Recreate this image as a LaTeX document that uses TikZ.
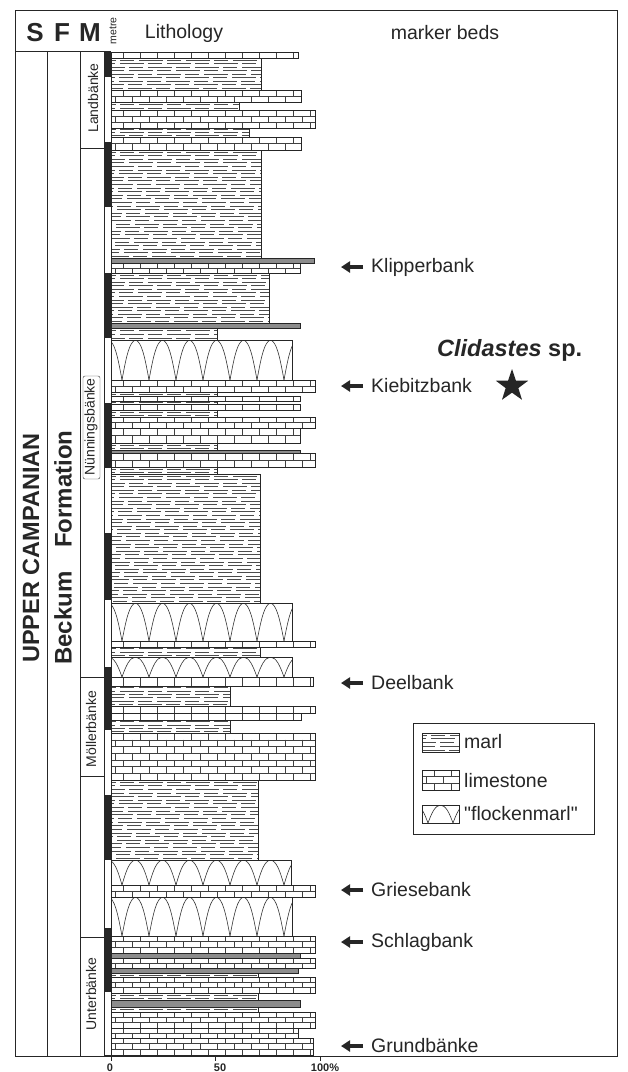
\documentclass[tikz,border=0pt]{standalone}
\usepackage{fontspec}
\setmainfont{Liberation Sans}[Ligatures=TeXOff]
\usetikzlibrary{arrows.meta,shapes.geometric}

\tikzset{
  frame/.style={line width=1pt, draw=black!85},
  bedline/.style={line width=0.6pt, draw=black!85},
  thinline/.style={line width=0.45pt, draw=black!75},
  flockline/.style={line width=0.6pt, draw=black!80},
  marlline/.style={line width=0.45pt, draw=black!70, dash pattern=on 24pt off 4pt on 14pt off 5pt},
  mlabel/.style={anchor=west, inner sep=0pt, font=\fontsize{19.5}{22}\selectfont, text=black!85},
  hlabel/.style={inner sep=0pt, font=\fontsize{19.5}{22}\selectfont, text=black!85},
  biglabel/.style={inner sep=0pt, rotate=90, font=\fontsize{24}{26}\selectfont\bfseries, text=black!85},
  unitlabel/.style={inner sep=0pt, rotate=90, font=\fontsize{14}{16}\selectfont, text=black!85},
  sfm/.style={inner sep=0pt, font=\fontsize{26}{28}\selectfont\bfseries, text=black!85},
  axislabel/.style={inner sep=0pt, font=\fontsize{11}{12}\selectfont\bfseries, text=black!85},
  markarrow/.style={line width=3.4pt, draw=black!85, -{Triangle[length=9pt,width=11pt]}, shorten <=8pt},
}

% limestone: x1 y1 x2 y2
\newcommand{\limeG}[4]{%
  \fill[white] (#1,#2) rectangle (#3,#4);
  \begin{scope}
    \clip (#1,#2) rectangle (#3,#4);
    \pgfmathtruncatemacro\nrows{max(1,round((#4-#2)/6.3))}
    \pgfmathsetmacro\rowh{(#4-#2)/\nrows}
    \foreach \rr in {1,...,\nrows}{
      \pgfmathsetmacro\ya{#2+(\rr-1)*\rowh}
      \pgfmathsetmacro\yb{#2+\rr*\rowh}
      \pgfmathsetmacro\off{mod(\rr,2)*8.5+4}
      \draw[thinline] (#1,\yb) -- (#3,\yb);
      \foreach \jj in {0,...,13}{
        \draw[thinline] ({#1+\off+17*\jj},\ya) -- ({#1+\off+17*\jj},\yb);
      }
    }
  \end{scope}
  \draw[bedline] (#1,#2) rectangle (#3,#4);
}
% marl
\newcommand{\marlG}[4]{%
  \fill[white] (#1,#2) rectangle (#3,#4);
  \begin{scope}
    \clip (#1,#2) rectangle (#3,#4);
    \pgfmathtruncatemacro\nlines{max(1,round((#4-#2)/3.6))}
    \pgfmathsetmacro\lineh{(#4-#2)/\nlines}
    \foreach \rr in {1,...,\nlines}{
      \pgfmathsetmacro\yy{#2+(\rr-0.5)*\lineh}
      \pgfmathsetmacro\ph{mod(\rr*19,47)}
      \draw[marlline] ({#1-\ph},\yy) -- (#3,\yy);
    }
  \end{scope}
  \draw[bedline] (#1,#2) rectangle (#3,#4);
}
% marly limestone (dark)
\newcommand{\darkG}[4]{%
  \fill[black!45] (#1,#2) rectangle (#3,#4);
  \draw[bedline] (#1,#2) rectangle (#3,#4);
}
% flockenmarl: x1 y1 x2 y2 offset spacing
\newcommand{\flockG}[6]{%
  \fill[white] (#1,#2) rectangle (#3,#4);
  \begin{scope}
    \clip (#1,#2) rectangle (#3,#4);
    \pgfmathsetmacro\fh{#4-#2}
    \pgfmathsetmacro\hw{#6/2}
    \foreach \kk in {-1,...,10}{
      \pgfmathsetmacro\bx{#1+#5+\kk*#6}
      \draw[flockline] (\bx,#4) .. controls ({\bx+0.16*#6},{#4-0.6*\fh}) and ({\bx+\hw-0.22*#6},{#2+0.04*\fh}) .. ({\bx+\hw},#2);
      \draw[flockline] (\bx,#4) .. controls ({\bx-0.16*#6},{#4-0.6*\fh}) and ({\bx-\hw+0.22*#6},{#2+0.04*\fh}) .. ({\bx-\hw},#2);
    }
  \end{scope}
  \draw[bedline] (#1,#2) rectangle (#3,#4);
}
\newcommand{\bedL}[3]{\limeG{111}{#1}{#3}{#2}}
\newcommand{\bedM}[3]{\marlG{111}{#1}{#3}{#2}}
\newcommand{\bedD}[3]{\darkG{111}{#1}{#3}{#2}}
\newcommand{\bedF}[3]{\flockG{111}{#1}{#3}{#2}{11}{27}}

\begin{document}
\begin{tikzpicture}[x=1pt,y=-1pt]
\useasboundingbox (0,0) rectangle (628,1072);
\fill[white] (0,0) rectangle (628,1072);

% ---------- beds ----------
\bedL{52}{58}{298}
\bedM{58}{90}{261}
\bedL{90}{102}{301}
\bedM{102}{110}{239}
\bedL{110}{128}{315}
\bedM{128}{137}{249}
\bedL{137}{150}{301}
\bedM{150}{258}{261}
\bedD{258}{263}{314}
\bedL{263}{273}{300}
\bedM{273}{323}{269}
\bedD{323}{328}{300}
\bedM{328}{340}{217}
\bedF{340}{380}{292}
\bedL{380}{392}{315}
\bedM{392}{396}{217}
\bedL{396}{401}{300}
\bedM{401}{404}{217}
\bedL{404}{410}{300}
\bedM{410}{417}{217}
\bedL{417}{428}{315}
\bedL{428}{443}{300}
\bedM{443}{450}{217}
\bedD{450}{453}{300}
\bedL{453}{467}{315}
\bedM{467}{474}{217}
\bedM{474}{603}{260}
\bedF{603}{641}{292}
\bedL{641}{647}{315}
\bedM{647}{657}{260}
\bedF{657}{677}{292}
\bedL{677}{686}{313}
\bedM{686}{706}{230}
\bedL{706}{713}{315}
\bedL{713}{720}{301}
\bedM{720}{733}{230}
\bedL{733}{780}{315}
\bedM{780}{860}{258}
\bedF{860}{885}{291}
\bedL{885}{897}{315}
\bedF{897}{936}{292}
\bedL{936}{953}{315}
\bedD{953}{958}{300}
\bedL{958}{968}{315}
\bedD{968}{973}{298}
\bedM{973}{977}{258}
\bedL{977}{993}{315}
\bedM{993}{1000}{258}
\bedD{1000}{1007}{300}
\bedM{1007}{1012}{258}
\bedL{1012}{1028}{315}
\bedL{1028}{1038}{298}
\bedL{1038}{1055}{313}

% ---------- metre bar ----------
\draw[bedline, fill=white] (104,52) rectangle (111,1055);
\foreach \a/\b in {52/77,142/207,273/338,403/468,533/600,667/730,795/860,928/992}{
  \fill[black!85] (104,\a) rectangle (111,\b);
}

% ---------- frame and columns ----------
\draw[frame] (15,10) rectangle (617,1056);
\draw[frame] (15,51) -- (111,51);
\draw[frame] (47,51) -- (47,1056);
\draw[frame] (80,51) -- (80,1056);
\draw[bedline] (80,148) -- (104,148);
\draw[bedline] (80,677) -- (104,677);
\draw[bedline] (80,776) -- (104,776);
\draw[bedline] (80,937) -- (104,937);
\draw[thinline, rounded corners=2pt] (83,376) rectangle (100,479);

% ---------- header ----------
\node[sfm] (hS) at (35,33) {S};
\node[sfm] (hF) at (62,33) {F};
\node[sfm] (hM) at (90,33) {M};
\node[inner sep=0pt, rotate=90, font=\fontsize{10.5}{11}\selectfont, text=black!85] (hmetre) at (113,31) {metre};
\node[hlabel] (hlith) at (184,33) {Lithology};
\node[hlabel] (hmark) at (445,33) {marker beds};

% ---------- column labels ----------
\node[biglabel, font=\fontsize{23.5}{26}\selectfont\bfseries] (stage) at (31,548) {UPPER CAMPANIAN};
\node[biglabel] (beckum) at (63,618) {Beckum};
\node[biglabel] (formation) at (63,489) {Formation};
\node[unitlabel] (land) at (93,98) {Landbänke};
\node[unitlabel] (nunn) at (91,427) {Nünningsbänke};
\node[unitlabel] (moell) at (91,729) {Möllerbänke};
\node[unitlabel] (unter) at (91,994) {Unterbänke};

% ---------- axis ----------
\draw[frame] (111,1056) -- (111,1061);
\draw[frame] (215,1056) -- (215,1061);
\draw[frame] (320,1056) -- (320,1061);
\node[axislabel] (ax0) at (110,1068) {0};
\node[axislabel] (ax50) at (220,1068) {50};
\node[axislabel] (ax100) at (325,1068) {100\%};

% ---------- marker beds ----------
\node[mlabel] (klip) at (371,267) {Klipperbank};
\node[mlabel] (kieb) at (371,386) {Kiebitzbank};
\node[mlabel] (deel) at (371,683) {Deelbank};
\node[mlabel] (gries) at (371,890) {Griesebank};
\node[mlabel] (schlag) at (371,942) {Schlagbank};
\node[mlabel] (grund) at (371,1046) {Grundbänke};
\coordinate (klipA) at (341,267);
\coordinate (kiebA) at (341,386);
\coordinate (deelA) at (341,683);
\coordinate (griesA) at (341,890);
\coordinate (schlagA) at (341,942);
\coordinate (grundA) at (341,1046);
\draw[markarrow] (klip.west) -- (klipA);
\draw[markarrow] (kieb.west) -- (kiebA);
\draw[markarrow] (deel.west) -- (deelA);
\draw[markarrow] (gries.west) -- (griesA);
\draw[markarrow] (schlag.west) -- (schlagA);
\draw[markarrow] (grund.west) -- (grundA);

% ---------- Clidastes ----------
\node[anchor=west, inner sep=0pt, font=\fontsize{23.5}{26}\selectfont\bfseries, text=black!85] (clid) at (437,350) {\itshape Clidastes\upshape{} sp.};
\node[star, star points=5, star point ratio=2.55, fill=black!85, draw=none, minimum size=34pt, inner sep=0pt] (star) at (512,386) {};

% ---------- legend ----------
\draw[bedline] (413,723) rectangle (594,834);
\marlG{422}{733}{459}{752}
\limeG{422}{770}{459}{790}
\flockG{422}{805}{459}{823}{6}{25}
\node[mlabel] (lgmarl) at (464,742) {marl};
\node[mlabel] (lglime) at (464,781) {limestone};
\node[mlabel] (lgflock) at (464,814) {"flockenmarl"};
\end{tikzpicture}
\end{document}
